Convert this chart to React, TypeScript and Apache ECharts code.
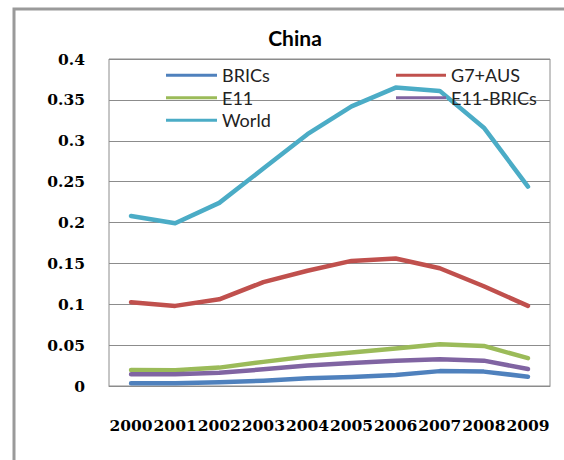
import React, { useEffect, useRef } from "react";
import * as echarts from "echarts";

const years = ["2000", "2001", "2002", "2003", "2004", "2005", "2006", "2007", "2008", "2009"];
const bricsValues = [0.0033, 0.0035, 0.0045, 0.0065, 0.0095, 0.011, 0.0135, 0.0182, 0.0176, 0.0114];
const g7ausValues = [0.1025, 0.098, 0.106, 0.127, 0.141, 0.153, 0.156, 0.144, 0.122, 0.098];
const e11Values = [0.0196, 0.0194, 0.0225, 0.0295, 0.036, 0.041, 0.046, 0.051, 0.049, 0.034];
const e11MinusBricsValues = [0.0143, 0.0143, 0.0163, 0.0204, 0.025, 0.028, 0.031, 0.0327, 0.031, 0.0208];
const worldValues = [0.208, 0.199, 0.224, 0.266, 0.308, 0.342, 0.365, 0.361, 0.316, 0.244];
const yTicks = { min: 0, max: 0.4, interval: 0.05 };

const seriesDefs = [
  { name: "BRICs", data: bricsValues, color: "#4F81BD" },
  { name: "G7+AUS", data: g7ausValues, color: "#C0504D" },
  { name: "E11", data: e11Values, color: "#9BBB59" },
  { name: "E11-BRICs", data: e11MinusBricsValues, color: "#8064A2" },
  { name: "World", data: worldValues, color: "#4BACC6" },
];

export default function App() {
  const ref = useRef<HTMLDivElement>(null);
  useEffect(() => {
    if (!ref.current) return;
    const chart = echarts.init(ref.current, undefined, { renderer: "svg" });
    const legendText = {
      fontFamily: "Lato",
      fontSize: 18,
      color: "#222",
      lineHeight: 22.5,
    };
    chart.setOption({
      animation: false,
      backgroundColor: "#ffffff",
      title: {
        text: "China",
        left: 290,
        textAlign: "center",
        top: 22,
        textStyle: { fontFamily: "Lato", fontWeight: "bold", fontSize: 21, color: "#000" },
      },
      graphic: [
        {
          type: "rect",
          shape: { x: 14, y: 9, width: 620, height: 520 },
          style: { fill: "none", stroke: "#9a9a9a", lineWidth: 3 },
          silent: true,
        },
      ],
      legend: [
        {
          data: ["BRICs", "E11", "World"],
          orient: "vertical",
          left: 166,
          top: 64,
          padding: 0,
          itemGap: 0,
          itemWidth: 51,
          itemHeight: 3,
          icon: "rect",
          textStyle: legendText,
        },
        {
          data: ["G7+AUS", "E11-BRICs"],
          orient: "vertical",
          left: 396,
          top: 64,
          padding: 0,
          itemGap: 0,
          itemWidth: 50,
          itemHeight: 3,
          icon: "rect",
          textStyle: legendText,
        },
      ],
      grid: {
        left: 109,
        right: 14,
        top: 59,
        bottom: 74,
        show: true,
        borderColor: "#8c8c8c",
        borderWidth: 1,
        containLabel: false,
      },
      xAxis: {
        type: "category",
        data: years,
        boundaryGap: true,
        axisLine: { show: true, lineStyle: { color: "#8c8c8c", width: 1 } },
        axisTick: { show: false },
        axisLabel: {
          interval: 0,
          margin: 31,
          fontFamily: "DejaVu Serif",
          fontWeight: "bold",
          fontSize: 15.5,
          color: "#000",
        },
        splitLine: { show: false },
      },
      yAxis: {
        type: "value",
        min: yTicks.min,
        max: yTicks.max,
        interval: yTicks.interval,
        axisLine: { show: false },
        axisTick: { show: false },
        axisLabel: {
          margin: 24,
          fontFamily: "DejaVu Serif",
          fontWeight: "bold",
          fontSize: 15.5,
          color: "#000",
          formatter: (v: number) => String(Math.round(v * 100) / 100),
        },
        splitLine: { show: true, lineStyle: { color: "#8c8c8c", width: 1 } },
      },
      series: seriesDefs.map((s) => ({
        name: s.name,
        type: "line",
        data: s.data,
        symbol: "none",
        color: s.color,
        lineStyle: { color: s.color, width: 4.5, cap: "round", join: "round" },
        itemStyle: { color: s.color },
      })),
    });
    return () => chart.dispose();
  }, []);
  return (
    <div
      ref={ref}
      style={{ position: "fixed", left: 0, top: 0, width: 564, height: 460 }}
    />
  );
}
